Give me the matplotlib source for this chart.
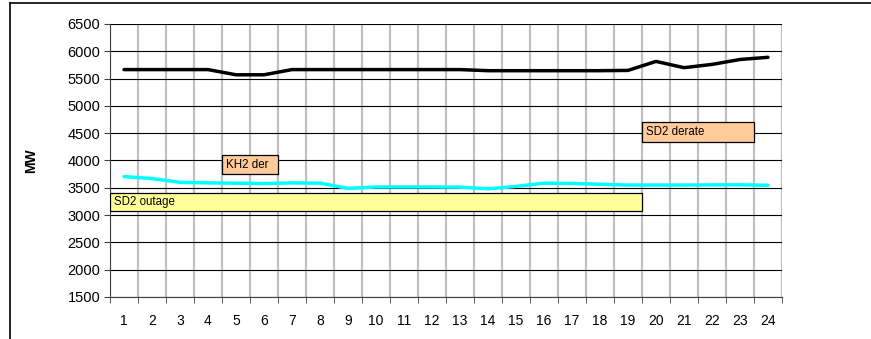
import matplotlib.pyplot as plt
from matplotlib.lines import Line2D
from matplotlib.patches import Rectangle

plt.rcParams["font.family"] = ["Liberation Sans", "DejaVu Sans"]

hours = list(range(1, 25))
total_mw = [5665, 5665, 5665, 5665, 5570, 5570, 5665, 5665, 5665, 5665, 5665, 5665,
            5665, 5645, 5645, 5645, 5645, 5645, 5650, 5815, 5700, 5760, 5850, 5890]
other_mw = [3705, 3670, 3600, 3590, 3585, 3578, 3590, 3585, 3490, 3515, 3515, 3515,
            3512, 3482, 3525, 3585, 3580, 3565, 3550, 3550, 3550, 3553, 3555, 3545]

# outage boxes: label, first hour, last hour, low MW, high MW, colour
boxes = [
    ("SD2 outage", 1, 19, 3070, 3400, "#FFFF99"),
    ("KH2 der", 5, 6, 3750, 4095, "#FFCC99"),
    ("SD2 derate", 20, 23, 4335, 4710, "#FFCC99"),
]

fig = plt.figure(figsize=(8.71, 3.39), dpi=100)
ax = fig.add_axes([110 / 871, 1 - 297 / 339, 672 / 871, 273 / 339])

ax.plot(hours, total_mw, color="black", lw=2.5, solid_capstyle="round", zorder=4)
ax.plot(hours, other_mw, color="#00FFFF", lw=2.5, solid_capstyle="round", zorder=4)

for label, h0, h1, lo, hi, col in boxes:
    ax.add_patch(Rectangle((h0 - 0.5, lo), h1 - h0 + 1, hi - lo, facecolor=col,
                           edgecolor="black", lw=0.9, zorder=5))
    ax.text(h0 - 0.35, (lo + hi) / 2, label, fontsize=8.3, va="center", ha="left", zorder=6)

ax.set_xlim(0.5, 24.5)
ax.set_ylim(1500, 6500)
ax.set_yticks(range(1500, 6501, 500))
ax.set_xticks(hours)
ax.set_xticks([h + 0.5 for h in range(0, 25)], minor=True)
ax.tick_params(axis="x", which="major", length=0, pad=12, labelsize=10)
ax.tick_params(axis="x", which="minor", length=4, color="#404040")
ax.tick_params(axis="y", length=4, color="#404040", labelsize=10.5, pad=3)

ax.grid(axis="y", which="major", color="black", lw=0.8)
ax.grid(axis="x", which="minor", color="#C0C0C0", lw=1.6)
ax.set_axisbelow(True)
for side in ["top", "right"]:
    ax.spines[side].set_visible(False)
ax.spines["left"].set_color("#404040")
ax.spines["bottom"].set_color("#404040")

ax.set_ylabel("MW", fontsize=10, fontweight="bold", labelpad=21)

# outer frame of the chart area
fig.add_artist(Line2D([10 / 871, 10 / 871], [0, 1 - 3 / 339], color="black", lw=1.2))
fig.add_artist(Line2D([10 / 871, 1], [1 - 3 / 339, 1 - 3 / 339], color="black", lw=1.2))

fig.savefig("out.png", dpi=100)
